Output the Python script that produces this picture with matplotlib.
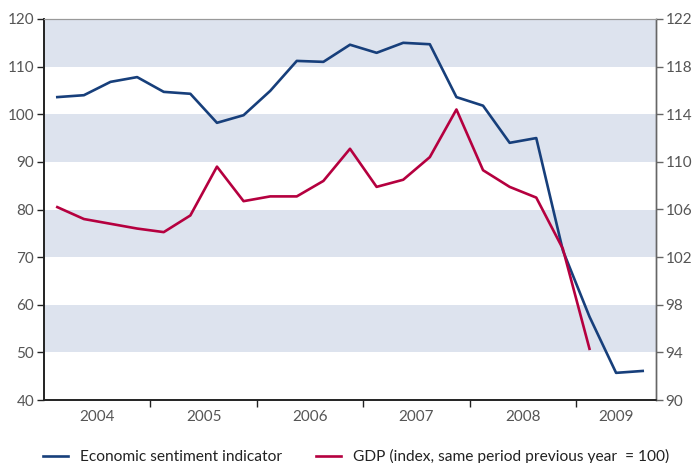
import matplotlib
matplotlib.use('Agg')
import matplotlib.pyplot as plt
from matplotlib.lines import Line2D
import numpy as np

plt.rcParams['font.family'] = ['Lato', 'DejaVu Sans']

# quarterly data 2004Q1 .. 2009Q3
quarters = ['2004Q1', '2004Q2', '2004Q3', '2004Q4',
            '2005Q1', '2005Q2', '2005Q3', '2005Q4',
            '2006Q1', '2006Q2', '2006Q3', '2006Q4',
            '2007Q1', '2007Q2', '2007Q3', '2007Q4',
            '2008Q1', '2008Q2', '2008Q3', '2008Q4',
            '2009Q1', '2009Q2', '2009Q3']
years = ['2004', '2005', '2006', '2007', '2008', '2009']

esi = [103.6, 104.0, 106.8, 107.8, 104.7, 104.3, 98.2, 99.8,
       104.9, 111.2, 111.0, 114.6, 112.9, 115.0, 114.7, 103.6,
       101.8, 94.0, 95.0, 71.4, 57.5, 45.7, 46.1]
gdp = [106.2, 105.2, 104.8, 104.4, 104.1, 105.5, 109.6, 106.7,
       107.1, 107.1, 108.4, 111.1, 107.9, 108.5, 110.4, 114.4,
       109.3, 107.9, 107.0, 102.7, 94.3]

blue = '#173f7b'
red = '#b5003f'
band = '#dde3ee'
tick_col = '#555555'
lw = 1.9

fig = plt.figure(figsize=(6.92, 4.63), dpi=100)
ax = fig.add_axes([44 / 692, 63 / 463, 612 / 692, 381 / 463])
ax2 = ax.twinx()

for lo in (50, 70, 90, 110):
    ax.axhspan(lo, lo + 10, color=band, lw=0, zorder=0)

x = np.arange(len(quarters)) + 0.5
ax.plot(x, esi, color=blue, lw=lw, zorder=3)
ax2.plot(x[:len(gdp)], gdp, color=red, lw=lw, zorder=3)

ax.set_xlim(0, len(quarters))
ax.set_ylim(40, 120)
ax2.set_ylim(90, 122)
ax.set_yticks(np.arange(40, 121, 10))
ax2.set_yticks(np.arange(90, 123, 4))

# year boundaries as ticks, labels in the middle of each year
ax.set_xticks([4, 8, 12, 16, 20])
ax.set_xticklabels([])
centers = [(4 * i + min(4 * i + 4, len(quarters))) / 2 for i in range(len(years))]
ax.set_xticks(centers, minor=True)
ax.set_xticklabels(years, minor=True)
ax.tick_params(axis='x', which='minor', length=0, pad=7, labelsize=11, labelcolor=tick_col)
ax.tick_params(axis='x', which='major', length=5, width=1, color='#222222')
ax.tick_params(axis='y', length=5, width=1, color='#222222', labelsize=11, labelcolor=tick_col, pad=2)
ax2.tick_params(axis='y', length=5, width=1, color='#666666', labelsize=11, labelcolor=tick_col, pad=2)

for a in (ax, ax2):
    a.spines['top'].set_color('#999999')
    a.spines['top'].set_linewidth(0.8)
    a.spines['left'].set_color('#222222')
    a.spines['bottom'].set_color('#222222')
    a.spines['right'].set_color('#666666')
    a.spines['left'].set_linewidth(1.2)
    a.spines['bottom'].set_linewidth(1.2)
    a.spines['right'].set_linewidth(1.0)

# legend entries placed separately to match the original spacing
entries = [(blue, 'Economic sentiment indicator', 43),
           (red, 'GDP (index, same period previous year  = 100)', 316)]
for col, lab, left in entries:
    fig.legend([Line2D([], [], color=col, lw=lw)], [lab], loc='lower left',
               bbox_to_anchor=(left / 692, -1 / 463), frameon=False, fontsize=11.2,
               borderpad=0, borderaxespad=0,
               handlelength=1.6, handletextpad=0.8, labelcolor='#222222')

fig.savefig('out.png', dpi=100)
